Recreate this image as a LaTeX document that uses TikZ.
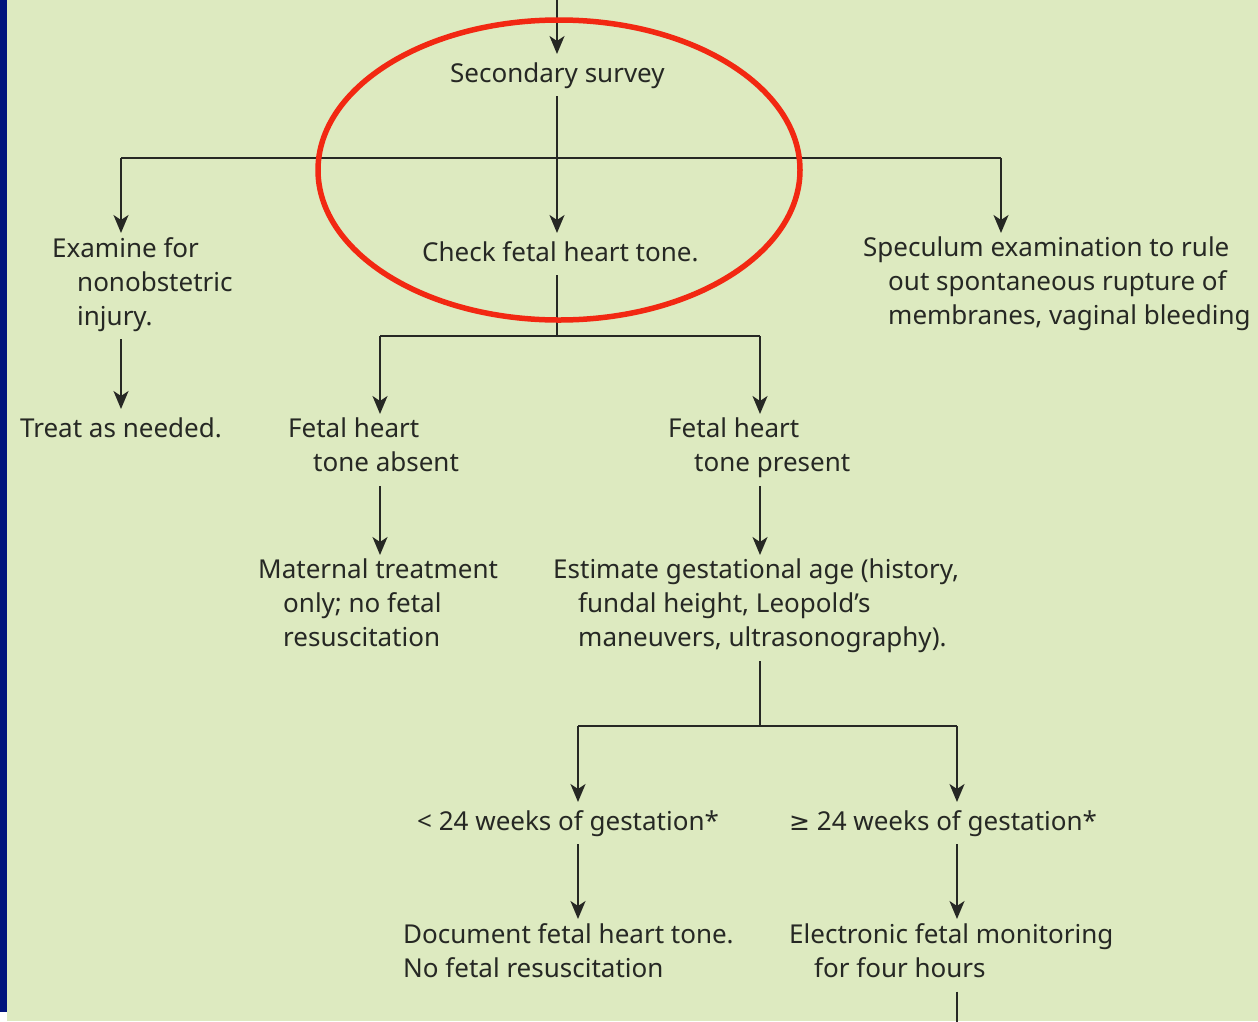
\documentclass[tikz,border=0pt]{standalone}
\usepackage{fontspec}
\setmainfont{Noto Sans}
\newfontfamily\symfont{DejaVu Sans}
\usetikzlibrary{arrows.meta}
\definecolor{bg}{RGB}{221,234,192}
\definecolor{navy}{RGB}{0,20,125}
\definecolor{ink}{RGB}{38,40,36}
\definecolor{ring}{RGB}{242,40,18}
\begin{document}
\begin{tikzpicture}[x=1pt,y=-1pt,
  txt/.style={anchor=north west, align=left, inner xsep=0pt, inner ysep=4pt,
    font=\fontsize{26}{34}\selectfont, text=ink,
    execute at begin node=\strut, execute at end node=\strut},
  conn/.style={draw=ink, line width=2.3pt},
  arr/.style={conn, -{Stealth[length=18pt,width=15pt,inset=5pt]}},
  ringline/.style={draw=ring, line width=5.5pt}]
\useasboundingbox (0,0) rectangle (1258,1021);
\clip (0,0) rectangle (1258,1021);
\fill[bg] (0,0) rectangle (1258,1021);
\fill[navy] (0,0) rectangle (7,1012);
\fill[white] (0,1012) rectangle (7,1021);

% text nodes
\node[txt] (ss)   at (450,54)  {Secondary survey};
\node[txt] (cfht) at (422,233) {Check fetal heart tone.};
\node[txt] (exam) at (52,233)  {Examine for\\\hspace*{25pt}nonobstetric\\\hspace*{25pt}injury.};
\node[txt] (spec) at (863,233) {Speculum examination to rule\\\hspace*{25pt}out spontaneous rupture of\\\hspace*{25pt}membranes, vaginal bleeding};
\node[txt] (treat) at (20,409) {Treat as needed.};
\node[txt] (fha)  at (288,414) {Fetal heart\\\hspace*{25pt}tone absent};
\node[txt] (fhp)  at (668,414) {Fetal heart\\\hspace*{26pt}tone present};
\node[txt] (mat)  at (258,555) {Maternal treatment\\\hspace*{25pt}only; no fetal\\\hspace*{25pt}resuscitation};
\node[txt] (est)  at (553,555) {Estimate gestational age (history,\\\hspace*{25pt}fundal height, Leopold's\\\hspace*{25pt}maneuvers, ultrasonography).};
\node[txt] (lt24) at (417,802) {< 24 weeks of gestation*};
\node[txt] (ge24) at (789,802) {{\symfont\fontsize{25}{34}\selectfont ≥} 24 weeks of gestation*};
\node[txt] (doc)  at (403,919) {Document fetal heart tone.\\No fetal resuscitation};
\node[txt] (efm)  at (789,919) {Electronic fetal monitoring\\\hspace*{25pt}for four hours};

% junctions
\coordinate (top) at (557,-5);
\coordinate (j1)  at (557,158);
\coordinate (j1l) at (121,158);
\coordinate (j1r) at (1001,158);
\coordinate (j2)  at (557,336);
\coordinate (j2l) at (380,336);
\coordinate (j2r) at (760,336);
\coordinate (j3)  at (760,726);
\coordinate (j3l) at (578,726);
\coordinate (j3r) at (957,726);
\coordinate (bot) at (957,1030);

% connectors
\draw[arr] (top) -- (top |- ss.north);
\draw[arr] (ss.south -| j1) -- (j1 |- cfht.north);
\draw[conn] (j1l) -- (j1r);
\draw[arr] (j1l) -- (j1l |- exam.north);
\draw[arr] (j1r) -- (j1r |- spec.north);
\draw[arr] (exam.south -| j1l) -- (j1l |- treat.north);
\draw[conn] (cfht.south -| j2) -- (j2);
\draw[conn] (j2l) -- (j2r);
\draw[arr] (j2l) -- (j2l |- fha.north);
\draw[arr] (j2r) -- (j2r |- fhp.north);
\draw[arr] (fha.south -| j2l) -- (j2l |- mat.north);
\draw[arr] (fhp.south -| j2r) -- (j2r |- est.north);
\draw[conn] (est.south -| j3) -- (j3);
\draw[conn] (j3l) -- (j3r);
\draw[arr] (j3l) -- (j3l |- lt24.north);
\draw[arr] (j3r) -- (j3r |- ge24.north);
\draw[arr] (lt24.south -| j3l) -- (j3l |- doc.north);
\draw[arr] (ge24.south -| j3r) -- (j3r |- efm.north);
\draw[conn] (efm.south -| bot) -- (bot);

% highlight ring
\draw[ringline] (559,170) ellipse [x radius=241pt, y radius=150pt];
\end{tikzpicture}
\end{document}
